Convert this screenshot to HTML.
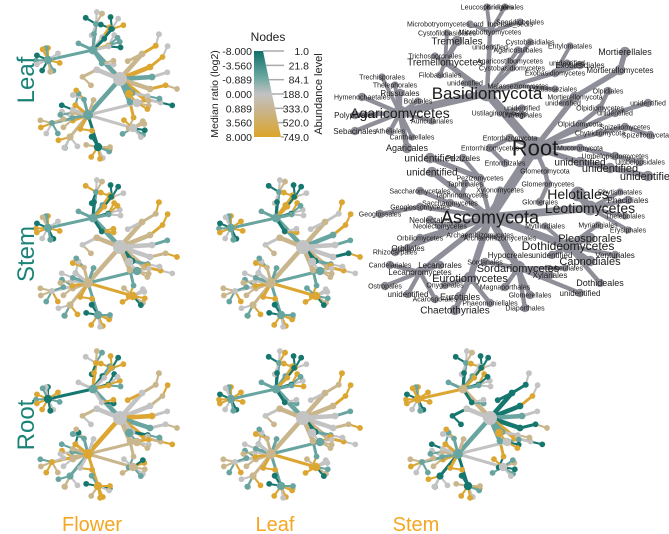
<!DOCTYPE html>
<html><head><meta charset="utf-8">
<style>
html,body{margin:0;padding:0;background:#fff;}
#wrap{position:relative;width:669px;height:534px;overflow:hidden;font-family:"Liberation Sans",sans-serif;}
svg{position:absolute;left:0;top:0;}
</style></head>
<body>
<div id="wrap">
<svg id="svg" width="669" height="534" viewBox="0 0 669 534">
  <g id="key"></g>
  <g id="panels"></g>
  <g id="legend">
    <defs>
      <linearGradient id="lg" x1="0" y1="0" x2="0" y2="1">
        <stop offset="0" stop-color="#0f716a"/>
        <stop offset="0.3" stop-color="#6aa6a0"/>
        <stop offset="0.5" stop-color="#c2c2c2"/>
        <stop offset="0.7" stop-color="#c9b48a"/>
        <stop offset="1" stop-color="#dca52a"/>
      </linearGradient>
    </defs>
    <text x="268" y="41" font-size="12" text-anchor="middle" fill="#222">Nodes</text>
    <polygon points="254,51 263,51 281,137 254,137" fill="url(#lg)"/>
    <g id="legticks"></g>
    <text transform="translate(218,94) rotate(-90)" font-size="10.5" text-anchor="middle" fill="#222">Median ratio (log2)</text>
    <text transform="translate(322,94) rotate(-90)" font-size="11" text-anchor="middle" fill="#222">Abundance level</text>
  </g>
  <g>
    <text transform="translate(34,80) rotate(-90)" font-size="24" text-anchor="middle" fill="#1a8378">Leaf</text>
    <text transform="translate(34,254) rotate(-90)" font-size="24" text-anchor="middle" fill="#1a8378">Stem</text>
    <text transform="translate(34,425) rotate(-90)" font-size="24" text-anchor="middle" fill="#1a8378">Root</text>
  </g>
  <g>
    <text x="92" y="531" font-size="20" text-anchor="middle" fill="#f5a623">Flower</text>
    <text x="275" y="531" font-size="20" text-anchor="middle" fill="#f5a623">Leaf</text>
    <text x="416" y="531" font-size="20" text-anchor="middle" fill="#f5a623">Stem</text>
  </g>
</svg>
</div>
<script>
const ratioTicks = ["-8.000","-3.560","-0.889","0.000","0.889","3.560","8.000"];
const abundTicks = ["1.0","21.8","84.1","188.0","333.0","520.0","749.0"];
// taxonomy: id, parent, label, x, y (key layout), fontsize, abundance radius
const taxa = [
["R","","Root",535,148,22,11],["B","R","Basidiomycota",487,93,17,8],
["Ag","B","Agaricomycetes",400,113,14,7],["Ag1","Ag","Polyporales",355,115,8,4],["Ag2","Ag","Hymenochaetales",362,97,7,4],
["Ag3","Ag","Russulales",400,93,8,4],["Ag4","Ag","Boletales",418,101,7,3.5],["Ag5","Ag","Thelephorales",395,85,7,3.5],
["Ag6","Ag","Trechisporales",382,77,7,3.5],["Ag7","Ag","Sebacinales",355,131,8,4],["Ag8","Ag","Atheliales",390,131,7,4],
["Ag9","Ag","Cantharellales",412,137,7,3.5],["Ag10","Ag","Agaricales",407,148,9,5],["Ag11","Ag","Auriculariales",432,121,7,3.5],
["Tm","B","Tremellomycetes",445,62,10,5],["Tm1","Tm","Tremellales",457,41,10,5],["Tm2","Tm","Cystofilobasidiales",447,33,7,3.5],
["Tm3","Tm","Trichosporonales",435,56,7,3.5],["Tm4","Tm","Filobasidiales",440,75,7,3.5],["Bu1","B","unidentified",465,83,7,3.5],
["Mb","B","Microbotryomycetes",490,32,7,4],["Mb1","Mb","Leucosporidiales",487,7,7,3.5],["Mb2","Mb","Kriegeriales",505,7,7,3.5],
["Mb3","Mb","Sporidiobolales",520,22,7,3.5],["Mb4","Mb","Microbotryomycetes_ord_Incertae_sedis",470,24,7,3.5],
["Bu2","B","unidentified",490,47,7,3.5],["As","B","Agaricostilbomycetes",510,61,7,3.5],["As1","As","Agaricostilbales",518,50,7,3.5],
["Cy","B","Cystobasidiomycetes",512,68,7,3.5],["Cy1","Cy","Cystobasidiales",530,42,7,3.5],["Ex","B","Exobasidiomycetes",555,73,7,4],
["Ex1","Ex","Entylomatales",570,46,7,3.5],["Ex2","Ex","Exobasidiales",580,65,8,4],["Ex3","Ex","unidentified",567,63,7,3.5],
["Ma","B","Malasseziomycetes",518,86,7,3.5],["Ma1","Ma","Malasseziales",555,89,7,3.5],["Us","B","Ustilaginomycetes",500,113,7,3.5],
["Us1","Us","Ustilaginales",522,115,7,3.5],["Us2","Us","unidentified",522,108,7,3.5],
["Mo","R","Mortierellomycota",575,97,7,5],["Mo1","Mo","Mortierellomycetes",620,70,8,5],["Mo2","Mo1","Mortierellales",625,52,9,5],
["Mo3","Mo","unidentified",563,103,7,3.5],["Ol","R","Olpidiomycota",580,124,7,4],["Ol1","Ol","Olpidiomycetes",600,108,7,4],
["Ol2","Ol1","Olpidiales",608,91,7,4],["Fu1","R","unidentified",615,113,7,4],["Fu2","Fu1","unidentified",648,103,7,4],
["Ch","R","Chytridiomycota",600,133,7,4],["Ch1","Ch","Spizellomycetes",625,127,7,4],["Ch2","Ch1","Spizellomycetales",650,135,7,4],
["Mu","R","Mucoromycota",580,148,7,4],["Mu1","Mu","Umbelopsidomycetes",615,156,7,4],["Mu2","Mu1","Umbelopsidales",640,162,7,4],
["Fu3","R","unidentified",580,162,10,5],["Fu4","Fu3","unidentified",610,168,11,5],["Fu5","Fu4","unidentified",648,176,11,5],
["En","R","Entorrhizomycota",510,138,7,4],["En1","En","Entorrhizomycetes",490,148,7,4],["En2","En1","Entorrhizales",505,163,7,4],
["Gl","R","Glomeromycota",545,171,7,4],["Gl1","Gl","Glomeromycetes",548,184,7,4],["Gl2","Gl1","Glomerales",540,202,7,4],
["A","R","Ascomycota",490,217,18,9],["Le","A","Leotiomycetes",590,208,14,7],["Le1","Le","Helotiales",578,194,14,7],
["Le2","Le","Rhytismatales",620,192,7,3.5],["Le3","Le","Phacidiales",628,200,8,4],["Le4","Le","Thelebolales",625,216,7,3.5],
["Le5","Le","Erysiphales",628,230,7,3.5],["Do","A","Dothideomycetes",568,246,12,7],["Do1","Do","Pleosporales",590,238,11,5],
["Do2","Do","Capnodiales",590,261,11,5],["Do3","Do","Venturiales",615,255,8,4],["Do4","Do","Dothideales",600,283,9,4],
["Do5","Do","Myriangiales",598,225,7,3.5],["Do6","Do","Mytilinidiales",545,226,7,3.5],["Do7","Do","unidentified",552,255,8,4],
["So","A","Sordariomycetes",518,268,11,7],["So1","So","Hypocreales",510,255,8,5],["So2","So","Sordariales",485,262,7,4],
["So3","So","Xylariales",550,275,8,4],["So4","So","Magnaporthales",505,287,7,4],["So5","So","Glomerellales",530,295,7,4],
["So6","So","Diaporthales",525,308,7,4],["So7","So","unidentified",580,293,8,4],["So8","So","Tubeufiales",565,268,7,3.5],
["Eu","A","Eurotiomycetes",470,278,11,6],["Eu1","Eu","Chaetothyriales",455,310,10,5],["Eu2","Eu","Eurotiales",460,297,9,5],
["Eu3","Eu","Onygenales",445,285,7,4],["Eu4","Eu","Phaeomoniellales",490,303,7,4],["Lc","A","Lecanoromycetes",420,272,8,5],
["Lc1","Lc","Lecanorales",440,265,8,4],["Lc2","Lc","Candelariales",390,265,7,4],["Lc3","Lc","Ostropales",385,286,7,4],
["Lc4","Lc","Acarosporales",435,299,7,4],["Lc5","Lc","unidentified",408,294,8,4],["Or","A","Orbiliomycetes",420,238,7,4],
["Or1","Or","Orbiliales",408,248,8,4],["Rh","A","Rhizocarpales",395,252,7,4],["Ne","A","Neolectomycetes",440,226,7,4],
["Ne1","Ne","Neolectales",430,220,8,4],["Ge","A","Geoglossomycetes",420,207,7,4],["Ge1","Ge","Geoglossales",380,214,7,4],
["Sa","A","Saccharomycetes",450,203,7,4],["Sa1","Sa","Saccharomycetales",420,191,7,4],["Ta","A","Taphrinomycetes",462,195,7,4],
["Ta1","Ta","Taphrinales",465,184,7,4],["Xy","A","Xylonomycetes",500,190,7,3.5],["Pz","A","Pezizomycetes",480,178,7,4],
["Pz1","Pz","Pezizales",463,158,8,4],["Pz2","Pz","unidentified",430,158,10,5],["Au1","A","unidentified",432,172,10,5],
["Ar","A","Archaeorhizomycetes",480,235,7,4],["Ar1","Ar","Archaeorhizomycetales",500,238,7,3.5]
];
// per-panel ratio classes per node (T=-8..-3.5, t=-3.5..-0.9, g=0, n=0.9..3.5, a=3.5..8)
const panelNames = ["leaf-vs-flower","stem-vs-flower","stem-vs-leaf","root-vs-flower","root-vs-leaf","root-vs-stem"];
const panelRatios = [
 "gtttTagtagTtnatngTgtTTgaTtgaTTagttgTtgnnagnaagtgnanagTtgtgnntantgagnnagntTgnatTTnaagatnntgagtnnatgnnatgntgTgtntagaaaa",
 "gttaTagtnagTtatngaTtaTTgaTtaaTTagatgTaannagnaagtgnanagTtgngnntantgagnnagnaTgnatTTnaagatnntgagtnnatgnnatgntgTgtntagaaaa",
 "gtttTaatgagTtatngTgtaTTgaTaaaTTagttgTagngagtaagtgTanagTtgngnntantgagnnagntTgtatTTnaagatnntgagtnnatgnnatgntgTgtntagaaaa",
 "gtTtaTagtaagTtatngTgtaTaaaTtgaTTagatgTagnnagnaagtgnanagTtgngnntantgagnnagntTgnatTTnaagatnntgagtnnatgnnatgntgTgtntagaaaa",
 "gttaTaatgagTtatagTgtaTTgaTtaaTTagttaTtgnnagnaagtgnanagTtgngnntantgagnnagntTgnatTTnaagatnntgagtnnatgnnatgntgTgtntagaaaa",
 "gnaaTaataagTtatngTgtaTTgaTtgaTTagTtgTtgTTgTTagtgTTnagTtgngTTtaTtgagtTagntTgtatTTnaagatnTtgagtnnatgnnatgntgTgtntagaaaa"
];
const panelRootX = [120,120,303,120,303,490];
const panelRootY = [79,247,247,418,418,418];
const palette = {T:"#16776f",t:"#69a5a0",g:"#c3c3c3",n:"#c9b68c",a:"#dca632"};

const NS="http://www.w3.org/2000/svg";
function mk(tag,attrs,parent){const e=document.createElementNS(NS,tag);for(const k in attrs)e.setAttribute(k,attrs[k]);parent.appendChild(e);return e;}
const byId={};taxa.forEach((t,i)=>byId[t[0]]=i);

// legend ticks
const lt=document.getElementById('legticks');
ratioTicks.forEach((v,i)=>{
  const y=51+i*(86/6);
  const t=mk('text',{x:252,y:y+4,'font-size':10.5,'text-anchor':'end',fill:'#222'},lt);
  
  
  t.textContent=v;
});
abundTicks.forEach((v,i)=>{
  const y=51+i*(86/6);
  const xr=263+18*(i/6);
  const l=mk('line',{x1:xr,y1:y,x2:284,y2:y,stroke:'#aaa','stroke-width':1.5},lt);
  
  
  const t=mk('text',{x:309,y:y+4,'font-size':10.5,'text-anchor':'end',fill:'#222'},lt);
  
  
  t.textContent=v;
});

// key tree
const key=document.getElementById('key');
const ke=mk('g',{},key), kn=mk('g',{},key), kl=mk('g',{},key);
taxa.forEach(t=>{
  if(t[1]){const p=taxa[byId[t[1]]];
    const l=mk('line',{x1:p[3],y1:p[4],x2:t[3],y2:t[4],stroke:'#8f8f99','stroke-width':t[6]*1.1,'stroke-linecap':'round'},ke);
    
    }
  const c=mk('circle',{cx:t[3],cy:t[4],r:t[6]*1.05,fill:'#8f8f99'},kn);
  
  
  const tx=mk('text',{x:t[3],y:t[4]+t[5]*0.35,'font-size':t[5],'text-anchor':'middle',fill:'#1a1a1a'},kl);
  
  
  tx.textContent=t[2];
});

// small tree layout: anchors relative to root, others scaled offsets from parent
const anchors={B:[-27,-29],Ag:[-72,-19],A:[-32,36],Le:[17,24],Do:[13,49],Tm:[-24,-55],Mb:[-8,-50],
  So:[-22,68],Eu:[-50,58],Lc:[-68,44],Mo:[22,-25],Ol:[30,-12],Fu1:[32,-2],Ch:[30,10],Mu:[25,20],Fu3:[12,14]};
function smallPos(){
  const pos={};
  taxa.forEach(t=>{
    if(!t[1]){pos[t[0]]=[0,0];return;}
    if(anchors[t[0]]){pos[t[0]]=anchors[t[0]];return;}
    const p=taxa[byId[t[1]]],pp=pos[t[1]];
    let dx=t[3]-p[3],dy=t[4]-p[4];const d=Math.hypot(dx,dy)||1;
    const L= t[1]==="R"?25:(p[1]==="R"?16:12);
    pos[t[0]]=[pp[0]+dx/d*L,pp[1]+dy/d*L];
  });
  return pos;
}
const sp=smallPos();
const panels=document.getElementById('panels');
panelNames.forEach((nm,pi)=>{
  const g=mk('g',{},panels);
  
  
  const ge=mk('g',{},g), gn=mk('g',{},g);
  const cols=panelRatios[pi];
  const X=panelRootX[pi],Y=panelRootY[pi];
  taxa.forEach((t,i)=>{
    const col=palette[cols[i%cols.length]]||"#c3c3c3";
    const q=sp[t[0]];
    const rr=t[1]===""?7:(t[1]==="R"?Math.max(3.4,t[6]*0.55):Math.max(2.9,t[6]*0.6));
    if(t[1]){const pq=sp[t[1]];
      const w=t[1]==="R"?4.6:(taxa[byId[t[1]]][1]==="R"?3:2.1);
      const l=mk('line',{x1:X+pq[0],y1:Y+pq[1],x2:X+q[0],y2:Y+q[1],stroke:col,'stroke-width':w,'stroke-linecap':'round'},ge);
      
      }
    const c=mk('circle',{cx:X+q[0],cy:Y+q[1],r:rr,fill:col},gn);
    
    
  });
});
</script>
</body></html>
